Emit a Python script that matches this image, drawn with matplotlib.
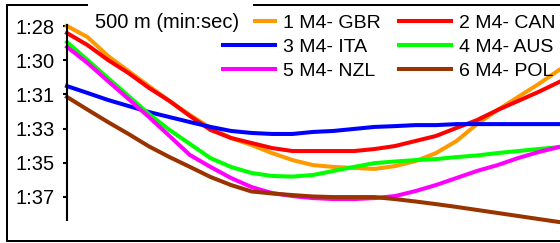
import matplotlib
matplotlib.use("Agg")
import matplotlib.pyplot as plt
from matplotlib.lines import Line2D
from matplotlib.patches import Rectangle

plt.rcParams['font.family'] = ['Liberation Sans', 'DejaVu Sans']

# ---- data (seconds per 500 m; x = split index) ----
splits = list(range(25))
crews = ["1 M4- GBR", "2 M4- CAN", "3 M4- ITA", "4 M4- AUS", "5 M4- NZL", "6 M4- POL"]
colors = ["#FF9900", "#FF0000", "#0000FF", "#00FF00", "#FF00FF", "#993300"]

gbr = [88.00, 88.55, 89.49, 90.24, 90.99, 91.73, 92.43, 93.07, 93.57, 93.92, 94.32, 94.67,
       94.92, 95.01, 95.06, 95.11, 94.97, 94.72, 94.32, 93.72, 92.88, 92.18, 91.53, 90.89, 90.19]
can = [88.35, 88.95, 89.69, 90.34, 91.08, 91.73, 92.48, 93.17, 93.57, 93.82, 94.07, 94.22,
       94.22, 94.22, 94.22, 94.12, 93.97, 93.72, 93.47, 93.07, 92.68, 92.18, 91.73, 91.28, 90.79]
ita = [90.99, 91.33, 91.68, 91.98, 92.28, 92.53, 92.78, 93.02, 93.22, 93.32, 93.37, 93.37,
       93.27, 93.22, 93.12, 93.02, 92.98, 92.93, 92.93, 92.88, 92.88, 92.88, 92.88, 92.88, 92.88]
aus = [88.80, 89.69, 90.59, 91.48, 92.38, 93.17, 93.87, 94.57, 95.01, 95.31, 95.46, 95.49,
       95.41, 95.21, 95.01, 94.82, 94.74, 94.67, 94.62, 94.52, 94.44, 94.32, 94.22, 94.12, 94.02]
nzl = [89.04, 89.84, 90.74, 91.63, 92.53, 93.47, 94.42, 95.01, 95.56, 96.01, 96.31, 96.46,
       96.56, 96.61, 96.61, 96.56, 96.46, 96.21, 95.91, 95.56, 95.21, 94.92, 94.57, 94.27, 94.02]
pol = [91.53, 92.16, 92.78, 93.37, 93.99, 94.52, 95.01, 95.51, 95.91, 96.23, 96.33, 96.41,
       96.48, 96.51, 96.51, 96.51, 96.61, 96.73, 96.86, 97.00, 97.15, 97.30, 97.45, 97.60, 97.75]
series = [gbr, can, ita, aus, nzl, pol]

ytick_vals = [88.0, 89.7, 91.4, 93.1, 94.8, 96.5]
ytick_labels = ["1:28", "1:30", "1:31", "1:33", "1:35", "1:37"]
title = "500 m (min:sec)"

# ---- figure ----
W, H = 560, 243
fig = plt.figure(figsize=(W / 100, H / 100), dpi=100)
fig.patch.set_facecolor("white")

ax = fig.add_axes([67 / W, (H - 220) / H, (559 - 67) / W, (220 - 25) / H])
lines = []
for vals, c, name in zip(series, colors, crews):
    ln, = ax.plot(splits, vals, color=c, lw=2.9, label=name, clip_on=False,
                  solid_joinstyle="miter")
    lines.append(ln)

ax.set_xlim(0, 24)
ax.set_ylim(97.65, 87.95)
ax.set_yticks(ytick_vals)
ax.set_yticklabels(ytick_labels, fontsize=14.5)
ax.set_xticks([])
for s in ["top", "right", "bottom"]:
    ax.spines[s].set_visible(False)
ax.spines["left"].set_linewidth(1.5)
ax.tick_params(axis="y", direction="out", length=3, width=1.5, pad=6)
ax.patch.set_alpha(0)

# legend: rows (1,2), (3,4), (5,6)
LFS = 14
order = [0, 2, 4, 1, 3, 5]
leg = fig.legend([lines[i] for i in order], [crews[i] for i in order],
                 ncol=2, loc="upper left", bbox_to_anchor=(223 / W, 1 - 14 / H),
                 frameon=False, fontsize=LFS, handlelength=2.68,
                 handletextpad=0.41, columnspacing=0.93, labelspacing=0.33,
                 borderpad=0, borderaxespad=0)
leg.set_zorder(5)

# outer frame
fw = 1.44
fig.add_artist(Line2D([7 / W, 1.0], [1 - 5 / H, 1 - 5 / H], color="black", lw=fw, zorder=4))
fig.add_artist(Line2D([7 / W, 7 / W], [1 - 5 / H, 1 - 241 / H], color="black", lw=fw, zorder=4))
fig.add_artist(Line2D([7 / W, 1.0], [1 - 241 / H, 1 - 241 / H], color="black", lw=fw, zorder=4))

# white box behind the title (covers frame top and part of first legend key)
fig.add_artist(Rectangle((88 / W, 1 - 32 / H), (253 - 88) / W, 32 / H,
                         transform=fig.transFigure, facecolor="white",
                         edgecolor="none", zorder=9))
fig.text(95 / W, 1 - 22 / H, title, fontsize=14.5, va="center", ha="left", zorder=10)

fig.savefig("out.png", dpi=100, facecolor="white")
